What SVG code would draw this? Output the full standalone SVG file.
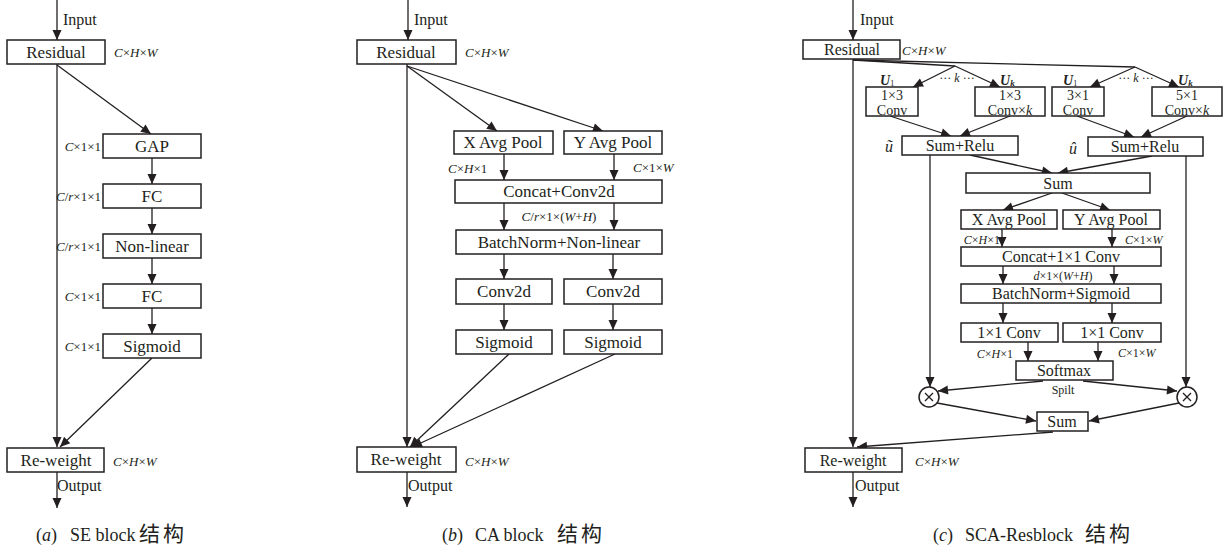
<svg xmlns="http://www.w3.org/2000/svg" width="1227" height="551" viewBox="0 0 1227 551">
<style>
.box{fill:#fff;stroke:#231f20;stroke-width:1.5}
.ln{stroke:#231f20;stroke-width:1.3;fill:none}
.ar{marker-end:url(#ah)}
.t{font-family:"Liberation Serif","Times New Roman",serif;font-size:17px;fill:#231f20;text-anchor:middle}
.tc{font-family:"Liberation Serif","Times New Roman",serif;font-size:16px;fill:#231f20;text-anchor:middle}
.t2{font-family:"Liberation Serif","Times New Roman",serif;font-size:14px;fill:#231f20;text-anchor:middle}
.s{font-family:"Liberation Serif","Times New Roman",serif;font-size:13px;fill:#231f20}
.sc{font-family:"Liberation Serif","Times New Roman",serif;font-size:12px;fill:#231f20}
.io{font-family:"Liberation Serif","Times New Roman",serif;font-size:16px;fill:#231f20}
.cap{font-family:"Liberation Serif","Noto Sans CJK SC",serif;font-size:18px;fill:#231f20}
.cj{font-family:"Noto Sans CJK SC",sans-serif;font-size:21px;letter-spacing:3px}
.i{font-style:italic}
.e{text-anchor:end}
.m{text-anchor:middle}
.u{font-family:"Liberation Serif",serif;font-size:14px;font-weight:bold;font-style:italic;fill:#231f20}
</style>
<defs>
<marker id="ah" viewBox="0 0 10 10" refX="10" refY="5" markerWidth="11" markerHeight="10" markerUnits="userSpaceOnUse" orient="auto">
<path d="M0,0.5 L10,5 L0,9.5 z" fill="#231f20"/>
</marker>
</defs>

<!-- ===== Panel (a) ===== -->
<g id="connectors-a">
<line class="ln ar" x1="57" y1="0" x2="57" y2="40"/>
<line class="ln ar" x1="57" y1="64" x2="57" y2="447"/>
<line class="ln ar" x1="57" y1="65" x2="151" y2="134"/>
<line class="ln ar" x1="152" y1="158" x2="152" y2="184"/>
<line class="ln ar" x1="152" y1="208" x2="152" y2="234"/>
<line class="ln ar" x1="152" y1="258" x2="152" y2="284"/>
<line class="ln ar" x1="152" y1="308" x2="152" y2="334"/>
<line class="ln ar" x1="152" y1="358" x2="60" y2="447"/>
<line class="ln ar" x1="57" y1="472" x2="57" y2="508"/>
</g>
<text class="io" x="63" y="25">Input</text>
<text class="io" x="57" y="491">Output</text>
<g id="a-residual"><rect class="box" x="7" y="40" width="98" height="24"/><text class="t" x="56" y="58">Residual</text>
<text class="s" x="114" y="57"><tspan class="i">C</tspan>×<tspan class="i">H</tspan>×<tspan class="i">W</tspan></text></g>
<g id="a-gap"><rect class="box" x="103" y="134" width="98" height="24"/><text class="t" x="152" y="152">GAP</text>
<text class="s e" x="101" y="151"><tspan class="i">C</tspan>×1×1</text></g>
<g id="a-fc1"><rect class="box" x="103" y="184" width="98" height="24"/><text class="t" x="152" y="202">FC</text>
<text class="s e" x="101" y="201"><tspan class="i">C</tspan>/<tspan class="i">r</tspan>×1×1</text></g>
<g id="a-nonlinear"><rect class="box" x="103" y="234" width="98" height="24"/><text class="t" x="152" y="252">Non-linear</text>
<text class="s e" x="101" y="251"><tspan class="i">C</tspan>/<tspan class="i">r</tspan>×1×1</text></g>
<g id="a-fc2"><rect class="box" x="103" y="284" width="98" height="24"/><text class="t" x="152" y="302">FC</text>
<text class="s e" x="101" y="301"><tspan class="i">C</tspan>×1×1</text></g>
<g id="a-sigmoid"><rect class="box" x="103" y="334" width="98" height="24"/><text class="t" x="152" y="352">Sigmoid</text>
<text class="s e" x="101" y="351"><tspan class="i">C</tspan>×1×1</text></g>
<g id="a-reweight"><rect class="box" x="7" y="448" width="97" height="24"/><text class="t" x="56" y="466">Re-weight</text>
<text class="s" x="113" y="466"><tspan class="i">C</tspan>×<tspan class="i">H</tspan>×<tspan class="i">W</tspan></text></g>
<text class="cap" y="541"><tspan x="36">(<tspan class="i">a</tspan>)</tspan><tspan x="70">SE block</tspan><tspan x="139" class="cj">结构</tspan></text>

<!-- ===== Panel (b) ===== -->
<g id="connectors-b">
<line class="ln ar" x1="408" y1="0" x2="408" y2="40"/>
<line class="ln ar" x1="407" y1="64" x2="407" y2="447"/>
<line class="ln ar" x1="407" y1="66" x2="497" y2="131"/>
<line class="ln ar" x1="407" y1="66" x2="603" y2="131"/>
<line class="ln ar" x1="504" y1="154" x2="504" y2="180"/>
<line class="ln ar" x1="614" y1="154" x2="614" y2="180"/>
<line class="ln ar" x1="504" y1="203" x2="504" y2="230"/>
<line class="ln ar" x1="614" y1="203" x2="614" y2="230"/>
<line class="ln ar" x1="504" y1="254" x2="504" y2="279"/>
<line class="ln ar" x1="613" y1="254" x2="613" y2="279"/>
<line class="ln ar" x1="504" y1="304" x2="504" y2="330"/>
<line class="ln ar" x1="613" y1="304" x2="613" y2="330"/>
<line class="ln ar" x1="509" y1="354" x2="410" y2="447"/>
<line class="ln ar" x1="615" y1="354" x2="412" y2="447"/>
<line class="ln ar" x1="407" y1="472" x2="407" y2="507"/>
</g>
<text class="io" x="414" y="25">Input</text>
<text class="io" x="408" y="491">Output</text>
<g id="b-residual"><rect class="box" x="357" y="40" width="99" height="24"/><text class="t" x="406" y="58">Residual</text>
<text class="s" x="465" y="57"><tspan class="i">C</tspan>×<tspan class="i">H</tspan>×<tspan class="i">W</tspan></text></g>
<g id="b-xpool"><rect class="box" x="454" y="131" width="99" height="23"/><text class="t" x="503" y="148">X Avg Pool</text>
<text class="s" x="448" y="173"><tspan class="i">C</tspan>×<tspan class="i">H</tspan>×1</text></g>
<g id="b-ypool"><rect class="box" x="564" y="131" width="98" height="23"/><text class="t" x="613" y="148">Y Avg Pool</text>
<text class="s" x="633" y="172"><tspan class="i">C</tspan>×1×<tspan class="i">W</tspan></text></g>
<g id="b-concat"><rect class="box" x="455" y="180" width="207" height="23"/><text class="t" x="559" y="197">Concat+Conv2d</text>
<text class="s m" x="559" y="221"><tspan class="i">C</tspan>/<tspan class="i">r</tspan>×1×(<tspan class="i">W</tspan>+<tspan class="i">H</tspan>)</text></g>
<g id="b-bn"><rect class="box" x="456" y="230" width="206" height="24"/><text class="t" x="559" y="248">BatchNorm+Non-linear</text></g>
<g id="b-conv-l"><rect class="box" x="456" y="279" width="96" height="25"/><text class="t" x="504" y="297">Conv2d</text></g>
<g id="b-conv-r"><rect class="box" x="564" y="279" width="98" height="25"/><text class="t" x="613" y="297">Conv2d</text></g>
<g id="b-sig-l"><rect class="box" x="456" y="330" width="96" height="24"/><text class="t" x="504" y="348">Sigmoid</text></g>
<g id="b-sig-r"><rect class="box" x="564" y="330" width="98" height="24"/><text class="t" x="613" y="348">Sigmoid</text></g>
<g id="b-reweight"><rect class="box" x="357" y="447" width="99" height="25"/><text class="t" x="406" y="465">Re-weight</text>
<text class="s" x="465" y="466"><tspan class="i">C</tspan>×<tspan class="i">H</tspan>×<tspan class="i">W</tspan></text></g>
<text class="cap" y="541"><tspan x="442">(<tspan class="i">b</tspan>)</tspan><tspan x="475">CA block</tspan><tspan x="557" class="cj">结构</tspan></text>

<!-- ===== Panel (c) ===== -->
<g id="connectors-c">
<line class="ln ar" x1="853" y1="0" x2="853" y2="40"/>
<line class="ln ar" x1="853" y1="59" x2="853" y2="447"/>
<line class="ln" x1="853" y1="60" x2="955" y2="66"/>
<line class="ln" x1="853" y1="60" x2="1135" y2="67"/>
<line class="ln ar" x1="955" y1="66" x2="913" y2="87"/>
<line class="ln ar" x1="955" y1="66" x2="1000" y2="87"/>
<line class="ln ar" x1="1135" y1="67" x2="1090" y2="87"/>
<line class="ln ar" x1="1135" y1="67" x2="1179" y2="87"/>
<line class="ln ar" x1="890" y1="116" x2="951" y2="136"/>
<line class="ln ar" x1="1010" y1="116" x2="960" y2="136"/>
<line class="ln ar" x1="1077" y1="116" x2="1134" y2="137"/>
<line class="ln ar" x1="1187" y1="116" x2="1141" y2="137"/>
<line class="ln ar" x1="930" y1="155" x2="930" y2="387"/>
<line class="ln ar" x1="1186" y1="156" x2="1186" y2="387"/>
<line class="ln ar" x1="970" y1="155" x2="1052" y2="173"/>
<line class="ln ar" x1="1152" y1="156" x2="1058" y2="173"/>
<line class="ln ar" x1="1052" y1="193" x2="1003" y2="210"/>
<line class="ln ar" x1="1062" y1="193" x2="1110" y2="210"/>
<line class="ln ar" x1="1002" y1="229" x2="1002" y2="247"/>
<line class="ln ar" x1="1112" y1="229" x2="1112" y2="247"/>
<line class="ln ar" x1="1003" y1="266" x2="1003" y2="284"/>
<line class="ln ar" x1="1114" y1="266" x2="1114" y2="284"/>
<line class="ln ar" x1="1003" y1="303" x2="1003" y2="323"/>
<line class="ln ar" x1="1112" y1="303" x2="1112" y2="323"/>
<line class="ln ar" x1="1028" y1="342" x2="1028" y2="361"/>
<line class="ln ar" x1="1098" y1="342" x2="1098" y2="361"/>
<line class="ln ar" x1="1043" y1="381" x2="938" y2="391"/>
<line class="ln ar" x1="1083" y1="381" x2="1177" y2="391"/>
<line class="ln ar" x1="937" y1="403" x2="1036" y2="421"/>
<line class="ln ar" x1="1179" y1="403" x2="1089" y2="421"/>
<line class="ln ar" x1="1053" y1="432" x2="857" y2="447"/>
<line class="ln ar" x1="853" y1="472" x2="853" y2="507"/>
</g>
<text class="io" x="860" y="25">Input</text>
<text class="io" x="855" y="491">Output</text>
<g id="c-residual"><rect class="box" x="803" y="40" width="97" height="19"/><text class="tc" x="852" y="55">Residual</text>
<text class="s" x="902" y="55"><tspan class="i">C</tspan>×<tspan class="i">H</tspan>×<tspan class="i">W</tspan></text></g>
<text class="u" x="880" y="85">U<tspan font-size="8" font-weight="normal" font-style="normal" dy="1">1</tspan></text>
<text class="sc m" x="957" y="82">··· <tspan class="i">k</tspan> ···</text>
<text class="u" x="1000" y="85">U<tspan font-size="9" dy="1">k</tspan></text>
<text class="u" x="1063" y="85">U<tspan font-size="8" font-weight="normal" font-style="normal" dy="1">1</tspan></text>
<text class="sc m" x="1136" y="82">··· <tspan class="i">k</tspan> ···</text>
<text class="u" x="1178" y="85">U<tspan font-size="9" dy="1">k</tspan></text>
<g id="c-conv13"><rect class="box" x="866" y="87" width="52" height="29"/><text class="t2" x="892" y="100">1×3</text><text class="t2" x="892" y="114.5">Conv</text></g>
<g id="c-conv13k"><rect class="box" x="975" y="87" width="70" height="29"/><text class="t2" x="1010" y="100">1×3</text><text class="t2" x="1010" y="114.5">Conv×<tspan class="i">k</tspan></text></g>
<g id="c-conv31"><rect class="box" x="1052" y="87" width="52" height="29"/><text class="t2" x="1078" y="100">3×1</text><text class="t2" x="1078" y="114.5">Conv</text></g>
<g id="c-conv51k"><rect class="box" x="1152" y="87" width="70" height="29"/><text class="t2" x="1187" y="100">5×1</text><text class="t2" x="1187" y="114.5">Conv×<tspan class="i">k</tspan></text></g>
<g id="c-sumrelu-l"><rect class="box" x="902" y="136" width="116" height="19"/><text class="tc" x="960" y="151">Sum+Relu</text>
<text class="io i" x="885" y="152" font-size="15">ũ</text></g>
<g id="c-sumrelu-r"><rect class="box" x="1088" y="137" width="115" height="19"/><text class="tc" x="1145" y="152">Sum+Relu</text>
<text class="io i" x="1069" y="154" font-size="15">û</text></g>
<g id="c-sum"><rect class="box" x="966" y="173" width="184" height="20"/><text class="tc" x="1058" y="189">Sum</text></g>
<g id="c-xpool"><rect class="box" x="961" y="210" width="96" height="19"/><text class="tc" x="1009" y="225">X Avg Pool</text>
<text class="sc e" x="1000" y="244"><tspan class="i">C</tspan>×<tspan class="i">H</tspan>×1</text></g>
<g id="c-ypool"><rect class="box" x="1063" y="210" width="97" height="19"/><text class="tc" x="1111" y="225">Y Avg Pool</text>
<text class="sc" x="1125" y="244"><tspan class="i">C</tspan>×1×<tspan class="i">W</tspan></text></g>
<g id="c-concat"><rect class="box" x="961" y="247" width="200" height="19"/><text class="tc" x="1061" y="262">Concat+1×1 Conv</text>
<text class="sc m" x="1063" y="280"><tspan class="i">d</tspan>×1×(<tspan class="i">W</tspan>+<tspan class="i">H</tspan>)</text></g>
<g id="c-bn"><rect class="box" x="961" y="284" width="200" height="19"/><text class="tc" x="1061" y="299">BatchNorm+Sigmoid</text></g>
<g id="c-conv-l"><rect class="box" x="961" y="323" width="97" height="19"/><text class="tc" x="1009" y="338">1×1 Conv</text>
<text class="sc e" x="1013" y="358"><tspan class="i">C</tspan>×<tspan class="i">H</tspan>×1</text></g>
<g id="c-conv-r"><rect class="box" x="1063" y="323" width="98" height="19"/><text class="tc" x="1112" y="338">1×1 Conv</text>
<text class="sc" x="1118" y="357"><tspan class="i">C</tspan>×1×<tspan class="i">W</tspan></text></g>
<g id="c-softmax"><rect class="box" x="1016" y="361" width="97" height="19"/><text class="tc" x="1064" y="376">Softmax</text>
<text class="sc m" x="1063" y="394">Spilt</text></g>
<g id="c-mul-l"><circle class="box" cx="929" cy="397" r="10" stroke-width="1.2"/><path class="ln" d="M925,393 L933,401 M933,393 L925,401" stroke-width="1"/></g>
<g id="c-mul-r"><circle class="box" cx="1187" cy="397" r="10" stroke-width="1.2"/><path class="ln" d="M1183,393 L1191,401 M1191,393 L1183,401" stroke-width="1"/></g>
<g id="c-sum2"><rect class="box" x="1037" y="412" width="51" height="19"/><text class="tc" x="1062" y="427">Sum</text></g>
<g id="c-reweight"><rect class="box" x="805" y="448" width="97" height="24"/><text class="tc" x="853" y="466">Re-weight</text>
<text class="s" x="915" y="466"><tspan class="i">C</tspan>×<tspan class="i">H</tspan>×<tspan class="i">W</tspan></text></g>
<text class="cap" y="541"><tspan x="933">(<tspan class="i">c</tspan>)</tspan><tspan x="965">SCA-Resblock</tspan><tspan x="1085" class="cj">结构</tspan></text>
</svg>
